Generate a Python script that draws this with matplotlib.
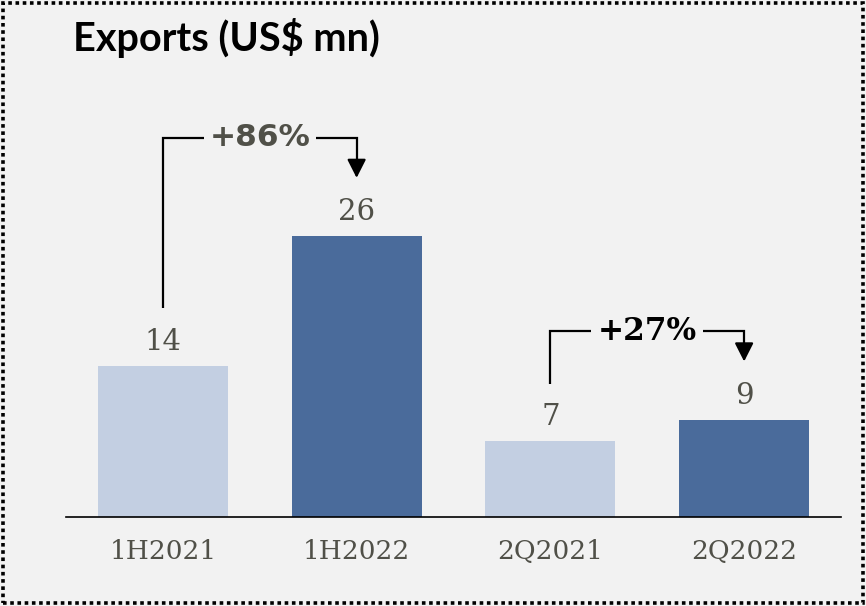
"""Exports bar chart with growth brackets."""

import matplotlib.pyplot as plt
from matplotlib.patches import Rectangle

periods = ["1H2021", "1H2022", "2Q2021", "2Q2022"]
exports = [14, 26, 7, 9]
bar_colors = ["#c3cfe2", "#4a6b9b", "#c3cfe2", "#4a6b9b"]

# growth brackets: (from bar, to bar, label)
growth = [(0, 1, "+86%"), (2, 3, "+27%")]

BG = "#f2f2f2"
TXT = "#505048"

fig = plt.figure(figsize=(8.66, 6.06), dpi=100, facecolor=BG)
ax = fig.add_axes([66 / 866, 89 / 606, 775 / 866, 432 / 606], facecolor=BG)

x = list(range(len(periods)))
ax.bar(x, exports, width=0.67, color=bar_colors, zorder=2)
ax.set_xlim(-0.5, 3.5)
ax.set_ylim(0, 40)

for xi, v in zip(x, exports):
    ax.annotate(str(v), (xi, v), xytext=(0, 11.5), textcoords="offset points",
                ha="center", va="baseline", fontsize=21, family="DejaVu Serif",
                color=TXT)

ax.set_xticks(x)
ax.set_xticklabels(periods, family="DejaVu Serif", fontsize=19, color=TXT)
ax.tick_params(axis="x", length=0, pad=16)
ax.set_yticks([])
for side in ["left", "right", "top"]:
    ax.spines[side].set_visible(False)
ax.spines["bottom"].set_linewidth(1.2)
ax.spines["bottom"].set_color("black")

# bracket geometry (data units): bottom above first label, top line, arrow tip
bracket_top = [35.1, 17.2]
fonts = [dict(family="DejaVu Sans", color=TXT), dict(family="DejaVu Serif", color="black")]
for (a, b, lab), top, fnt in zip(growth, bracket_top, fonts):
    bottom = exports[a] + 5.35
    tip = exports[b] + 5.4
    mid = (a + b) / 2
    ax.plot([a, a, mid - 0.29], [bottom, top, top], color="black", lw=1.6,
            solid_capstyle="butt", solid_joinstyle="miter")
    ax.plot([mid + 0.29, b, b], [top, top, tip + 1.2], color="black", lw=1.6,
            solid_capstyle="butt", solid_joinstyle="miter")
    ax.annotate("", xy=(b, tip), xytext=(b, tip + 1.3),
                arrowprops=dict(arrowstyle="-|>,head_length=0.75,head_width=0.38",
                                color="black", lw=1.6, shrinkA=0, shrinkB=0,
                                mutation_scale=15))
    ax.text(mid, top, lab, ha="center", va="center", fontsize=22.5,
            fontweight="bold", **fnt)

fig.text(73 / 866, 1 - 51 / 606, "Exports (US$ mn)", family="Lato",
         fontweight="bold", fontsize=28.5, va="baseline", ha="left")

fig.patches.append(Rectangle((3 / 866, 3 / 606), 860 / 866, 600 / 606,
                             transform=fig.transFigure, fill=False,
                             edgecolor="black", lw=2.6, linestyle=(0, (1, 1))))

fig.savefig("out.png", dpi=100, facecolor=BG)
